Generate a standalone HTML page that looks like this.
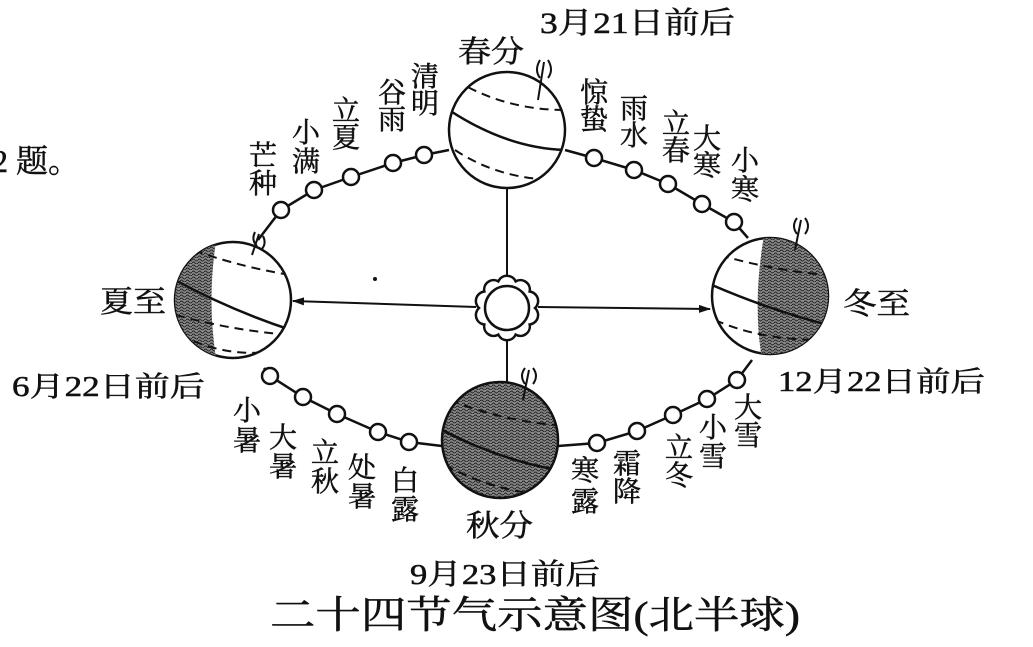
<!DOCTYPE html>
<html><head><meta charset="utf-8"><style>
html,body{margin:0;padding:0;background:#fff;}
svg{display:block;}
text{font-family:"Liberation Serif","Noto Serif CJK SC","Noto Sans CJK SC",serif;fill:#111;stroke:#111;stroke-width:0.5;}
.l{font-size:28px;text-anchor:middle;}
</style></head><body>
<svg width="1033" height="647" viewBox="0 0 1033 647" xmlns="http://www.w3.org/2000/svg">
<defs>
<pattern id="p" width="6" height="6" patternUnits="userSpaceOnUse">
<rect width="6" height="6" fill="#8a8a8a"/>
<path d="M0 2 q1.5 -2 3 0 t3 0 M0 5 q1.5 -2 3 0 t3 0" stroke="#222" stroke-width="1" fill="none"/>
</pattern>
<clipPath id="cx"><circle cx="233" cy="300" r="58"/></clipPath>
<clipPath id="cd"><circle cx="770" cy="296" r="58"/></clipPath>
<clipPath id="cc"><circle cx="507" cy="130" r="58"/></clipPath>
<clipPath id="cq"><circle cx="500" cy="440" r="58"/></clipPath>
<marker id="a" markerWidth="12" markerHeight="8" refX="11" refY="4" orient="auto" markerUnits="userSpaceOnUse"><path d="M0 0 L12 4 L0 8 Z" fill="#111"/></marker>
</defs>
<g stroke="#111" stroke-width="2.5" fill="none">
<path d="M565 150 L594 158 L634 170 L668 184 L702 204 L734 222 L748 238"/>
<path d="M449 150 L424 155 L393 163 L351 177 L314 190 L281 210 L258 240"/>
<path d="M264 368 L270 376 L303 397 L337 414 L378 432 L409 442 L442 446"/>
<path d="M558 446 L597 443 L637 431 L673 415 L707 399 L737 380 L752 360"/>
</g>
<g stroke="#111" stroke-width="2.5" fill="#fff">
<circle cx="424" cy="155" r="8"/><circle cx="393" cy="163" r="8"/><circle cx="351" cy="177" r="8"/><circle cx="314" cy="190" r="8"/><circle cx="281" cy="210" r="8"/>
<circle cx="594" cy="158" r="8"/><circle cx="634" cy="170" r="8"/><circle cx="668" cy="184" r="8"/><circle cx="702" cy="204" r="8"/><circle cx="734" cy="222" r="8"/>
<circle cx="270" cy="376" r="8"/><circle cx="303" cy="397" r="8"/><circle cx="337" cy="414" r="8"/><circle cx="378" cy="432" r="8"/><circle cx="409" cy="442" r="8"/>
<circle cx="597" cy="443" r="8"/><circle cx="637" cy="431" r="8"/><circle cx="673" cy="415" r="8"/><circle cx="707" cy="399" r="8"/><circle cx="737" cy="380" r="8"/>
</g>
<g stroke="#111" stroke-width="2">
<line x1="507" y1="278" x2="507" y2="162" marker-end="url(#a)"/>
<line x1="476" y1="307" x2="293" y2="301" marker-end="url(#a)"/>
<line x1="538" y1="307" x2="710" y2="309" marker-end="url(#a)"/>
<line x1="507" y1="338" x2="507" y2="382"/>
</g>
<g stroke="#111" stroke-width="2.5" fill="#fff">
<path d="M535 308 A9.5 9.5 0 0 1 529.65 324.46 A9.5 9.5 0 0 1 515.65 334.63 A9.5 9.5 0 0 1 498.35 334.63 A9.5 9.5 0 0 1 484.35 324.46 A9.5 9.5 0 0 1 479 308 A9.5 9.5 0 0 1 484.35 291.54 A9.5 9.5 0 0 1 498.35 281.37 A9.5 9.5 0 0 1 515.65 281.37 A9.5 9.5 0 0 1 529.65 291.54 A9.5 9.5 0 0 1 535 308 Z"/>
<circle cx="507" cy="308" r="22"/>
</g>
<g stroke="#111" stroke-width="2.5">
<circle cx="507" cy="130" r="58" fill="#fff"/>
<circle cx="233" cy="300" r="58" fill="#fff"/>
<circle cx="770" cy="296" r="58" fill="#fff"/>
<circle cx="500" cy="440" r="58" fill="url(#p)"/>
</g>
<path clip-path="url(#cx)" d="M170 230 L218 230 Q205 300 218 370 L170 370 Z" fill="url(#p)"/>
<path clip-path="url(#cd)" d="M765 230 Q752 300 762 360 L835 360 L835 230 Z" fill="url(#p)"/>
<g fill="none" stroke="#111" stroke-width="2.5">
<g clip-path="url(#cc)"><path d="M449 110 Q510 150 570 150"/><path d="M455 80 Q505 110 565 110" stroke-dasharray="9 6" stroke-width="2"/><path d="M455 150 Q500 180 560 180" stroke-dasharray="9 6" stroke-width="2"/></g>
<g clip-path="url(#cx)"><path d="M175 280 Q230 310 291 330"/><path d="M180 245 Q230 265 290 275" stroke-dasharray="9 6" stroke-width="2"/><path d="M176 315 Q230 330 290 335" stroke-dasharray="9 6" stroke-width="2"/><path d="M180 335 Q230 360 280 350" stroke-dasharray="9 6" stroke-width="2"/></g>
<g clip-path="url(#cd)"><path d="M712 285 Q770 310 828 325"/><path d="M720 255 Q770 270 828 275" stroke-dasharray="9 6" stroke-width="2"/><path d="M715 320 Q760 340 820 340" stroke-dasharray="9 6" stroke-width="2"/></g>
<g clip-path="url(#cq)"><path d="M442 430 Q500 460 558 470"/><path d="M450 400 Q500 420 555 425" stroke-dasharray="9 6" stroke-width="2"/><path d="M445 465 Q490 490 545 495" stroke-dasharray="9 6" stroke-width="2"/></g>
<path d="M540 60 q-6 10 0 18 M548 60 q6 10 0 18 M544 62 L538 100" stroke-width="2"/>
<path d="M797 218 q-6 8 0 16 M805 218 q6 8 0 16 M801 220 L795 250" stroke-width="2"/>
<path d="M525 368 q-6 8 0 16 M533 368 q6 8 0 16 M529 370 L523 400" stroke-width="2"/>
<path d="M255 232 q-4 8 2 14 M263 236 q4 8 -2 14 M259 234 L252 255" stroke-width="2"/>
</g>
<g>
<text x="425" y="86" class="l">清</text><text x="425" y="113" class="l">明</text>
<text x="392" y="102" class="l">谷</text><text x="392" y="129" class="l">雨</text>
<text x="346" y="120" class="l">立</text><text x="346" y="147" class="l">夏</text>
<text x="306" y="142" class="l">小</text><text x="306" y="171" class="l">满</text>
<text x="263" y="165" class="l">芒</text><text x="263" y="193" class="l">种</text>
<text x="594" y="102" class="l">惊</text><text x="594" y="129" class="l">蛰</text>
<text x="634" y="118" class="l">雨</text><text x="634" y="145" class="l">水</text>
<text x="676" y="133" class="l">立</text><text x="676" y="160" class="l">春</text>
<text x="707" y="148" class="l">大</text><text x="707" y="175" class="l">寒</text>
<text x="745" y="170" class="l">小</text><text x="745" y="199" class="l">寒</text>
<text x="247" y="420" class="l">小</text><text x="247" y="450" class="l">暑</text>
<text x="283" y="447" class="l">大</text><text x="283" y="476" class="l">暑</text>
<text x="325" y="462" class="l">立</text><text x="325" y="491" class="l">秋</text>
<text x="362" y="477" class="l">处</text><text x="362" y="506" class="l">暑</text>
<text x="405" y="490" class="l">白</text><text x="405" y="519" class="l">露</text>
<text x="585" y="480" class="l">寒</text><text x="585" y="511" class="l">露</text>
<text x="627" y="473" class="l">霜</text><text x="627" y="501" class="l">降</text>
<text x="679" y="457" class="l">立</text><text x="679" y="485" class="l">冬</text>
<text x="713" y="437" class="l">小</text><text x="713" y="466" class="l">雪</text>
<text x="748" y="417" class="l">大</text><text x="748" y="445" class="l">雪</text>
</g>
<text x="540" y="33" style="font-size:30px" textLength="195" lengthAdjust="spacingAndGlyphs">3月21日前后</text>
<text x="458" y="62" style="font-size:30px" textLength="66" lengthAdjust="spacingAndGlyphs">春分</text>
<text x="100" y="312" style="font-size:30px" textLength="66" lengthAdjust="spacingAndGlyphs">夏至</text>
<text x="843" y="314" style="font-size:30px" textLength="67" lengthAdjust="spacingAndGlyphs">冬至</text>
<text x="12" y="396" style="font-size:28px" textLength="193" lengthAdjust="spacingAndGlyphs">6月22日前后</text>
<text x="778" y="391" style="font-size:28px" textLength="207" lengthAdjust="spacingAndGlyphs">12月22日前后</text>
<text x="466" y="536" style="font-size:30px" textLength="67" lengthAdjust="spacingAndGlyphs">秋分</text>
<text x="410" y="584" style="font-size:29px" textLength="190" lengthAdjust="spacingAndGlyphs">9月23日前后</text>
<text x="270" y="628" style="font-size:38px" textLength="530" lengthAdjust="spacingAndGlyphs">二十四节气示意图(北半球)</text>
<text x="-8" y="172" style="font-size:32px">2 题。</text>
<circle cx="375" cy="279" r="2" fill="#111"/>
</svg>
</body></html>
